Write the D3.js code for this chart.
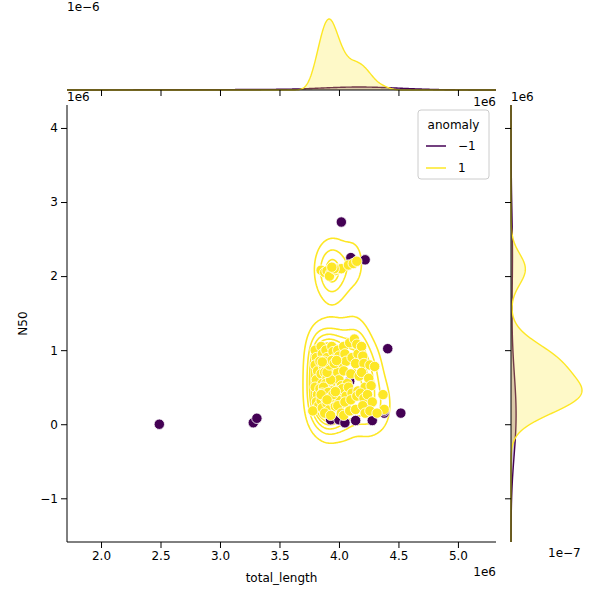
<!DOCTYPE html>
<html><head><meta charset="utf-8">
<script src="https://cdn.jsdelivr.net/npm/d3@7"></script>
<style>body{margin:0;background:#fff}text{font-family:"DejaVu Sans",sans-serif}</style>
</head><body><svg id="c" width="600" height="600"></svg>
<script>
// values in units of 1e6
const normalPts = [[3.80,1.0],[3.81,0.9],[3.80,0.8],[3.82,0.72],[3.81,0.6],[3.80,0.5],[3.82,0.4],[3.81,0.3],[3.83,0.25],[3.78,0.18],
[3.85,1.05],[3.86,0.95],[3.84,0.85],[3.87,0.78],[3.85,0.68],[3.86,0.55],[3.84,0.48],[3.87,0.38],[3.85,0.32],[3.86,0.22],
[3.89,1.0],[3.90,0.9],[3.91,0.82],[3.88,0.7],[3.9,0.62],[3.92,0.5],[3.89,0.45],[3.91,0.35],[3.9,0.28],[3.92,0.2],[3.88,0.15],
[3.94,1.05],[3.95,0.98],[3.96,0.88],[3.94,0.75],[3.95,0.65],[3.97,0.58],[3.93,0.52],[3.96,0.42],[3.94,0.38],[3.95,0.3],[3.97,0.24],[3.93,0.12],
[3.99,1.0],[4.0,0.92],[4.01,0.8],[3.99,0.7],[4.0,0.6],[4.02,0.52],[3.98,0.45],[4.01,0.4],[4.0,0.32],[3.99,0.25],[4.02,0.15],
[4.04,1.05],[4.05,0.95],[4.06,0.85],[4.04,0.72],[4.07,0.55],[4.03,0.48],[4.06,0.38],[4.05,0.3],[4.04,0.12],
[4.09,1.1],[4.11,0.9],[4.1,0.68],[4.08,0.5],[4.11,0.42],[4.1,0.33],[4.09,0.18],
[4.13,1.15],[4.15,1.08],[4.16,0.95],[4.14,0.82],[4.17,0.65],[4.16,0.45],[4.15,0.38],[4.14,0.2],
[4.19,1.05],[4.2,0.92],[4.21,0.82],[4.19,0.7],[4.22,0.5],[4.18,0.42],[4.21,0.35],[4.2,0.25],[4.22,0.15],
[4.26,0.8],[4.25,0.62],[4.27,0.52],[4.24,0.4],[4.28,0.3],[4.26,0.18],[4.3,0.78],[4.37,0.4],[4.38,0.2],[4.32,0.15],
[3.9,0.4],[3.92,0.42],[3.88,0.36],[3.91,0.48],[3.89,0.55],[3.93,0.6],[3.87,0.5],[3.9,0.7],[3.92,0.8],[3.88,0.85],[3.86,0.42],[3.94,0.45],
[3.89,0.38],[3.91,0.43],[3.93,0.36],[3.95,0.4],[3.85,0.4],[3.97,0.44],[3.9,0.33],[3.94,0.86],[3.96,0.82],[3.86,0.84],[3.98,0.86],
[3.85,2.08],[3.88,2.05],[3.9,2.07],[3.93,2.04],[3.95,2.06],[3.92,2.0],[3.98,2.08],[4.0,2.1],[4.02,2.1],[4.08,2.15],[4.12,2.17],[4.15,2.2],[3.96,2.1],[3.94,2.12]];
const anomalyPts = [[2.49,0.0],[3.28,0.02],[3.31,0.08],[4.02,2.73],[4.1,2.25],[4.22,2.22],[4.41,1.02],[4.09,0.58],[3.93,0.06],[4.0,0.06],
[4.05,0.02],[4.14,0.05],[4.28,0.05],[4.38,0.15],[4.38,0.18],[4.52,0.15],[4.25,0.2],[3.97,2.09]];
const hueLabels = ["-1","1"];
const hueColors = ["#440154","#fde725"];
const xTicks = [2.0,2.5,3.0,3.5,4.0,4.5,5.0];
const yTicks = [-1,0,1,2,3,4];

const svg = d3.select("#c");
const M = {l:67,r:496,t:105,b:542};
const x = d3.scaleLinear().domain([1.714,5.32]).range([M.l,M.r]);
const y = d3.scaleLinear().domain([-1.59,4.31]).range([M.b,M.t]);

function kde1(vals,grid,w){const n=vals.length,sd=d3.deviation(vals),h=sd*Math.pow(n,-1/5);
 return grid.map(g=>[g,w*d3.sum(vals,v=>Math.exp(-0.5*((g-v)/h)**2))/(n*h*Math.sqrt(2*Math.PI))]);}
const N = normalPts.length+anomalyPts.length;

(function(){
 const pts=normalPts,n=pts.length;
 const xs=pts.map(p=>p[0]),ys=pts.map(p=>p[1]);
 const mx=d3.mean(xs),my=d3.mean(ys);
 let sxx=0,syy=0,sxy=0;pts.forEach(p=>{sxx+=(p[0]-mx)**2;syy+=(p[1]-my)**2;sxy+=(p[0]-mx)*(p[1]-my);});
 const f=Math.pow(n,-1/6)**2;sxx=sxx/(n-1)*f;syy=syy/(n-1)*f;sxy=sxy/(n-1)*f;
 const det=sxx*syy-sxy*sxy,ia=syy/det,ib=-sxy/det,ic=sxx/det;
 const W=200,H=200,x0=3.4,x1=4.8,y0=-0.8,y1=3.2;
 const vals=new Float64Array(W*H);
 for(let j=0;j<H;j++)for(let i=0;i<W;i++){const gx=x0+(x1-x0)*i/(W-1),gy=y1-(y1-y0)*j/(H-1);let s=0;
  for(const p of pts){const dx=gx-p[0],dy=gy-p[1];s+=Math.exp(-0.5*(ia*dx*dx+2*ib*dx*dy+ic*dy*dy));}vals[j*W+i]=s;}
 const sorted=Array.from(vals).sort((a,b)=>a-b),tot=d3.sum(sorted);
 const props=d3.range(9).map(k=>0.05+k*(0.95/9));
 const th=[];let cum=0,k=0;
 for(const v of sorted){cum+=v;while(k<props.length&&cum/tot>=props[k]){th.push(v);k++;}}
 const cs=d3.contours().size([W,H]).thresholds(th)(vals);
 const gx=d3.scaleLinear().domain([0,W-1]).range([x(x0),x(x1)]);
 const gy=d3.scaleLinear().domain([0,H-1]).range([y(y1),y(y0)]);
 const tr=d3.geoTransform({point:function(a,b){this.stream.point(gx(a-0.5),gy(b-0.5));}});
 svg.append("g").selectAll("path").data(cs).join("path").attr("d",d3.geoPath(tr))
  .attr("fill","none").attr("stroke",hueColors[1]).attr("stroke-width",1.6);
})();

const all=[...anomalyPts.map(p=>[...p,0]),...normalPts.map(p=>[...p,1])];
svg.append("g").selectAll("circle").data(all).join("circle")
 .attr("cx",d=>x(d[0])).attr("cy",d=>y(d[1])).attr("r",5.2)
 .attr("fill",d=>hueColors[d[2]]).attr("stroke","#fff").attr("stroke-width",0.8);

const gxA=svg.append("g").attr("transform",`translate(0,${M.b})`).call(d3.axisBottom(x).tickValues(xTicks).tickFormat(d3.format(".1f")).tickSizeOuter(0));
gxA.select(".domain").attr("d",`M${M.l},0H${M.r}`);
const gyA=svg.append("g").attr("transform",`translate(${M.l},0)`).call(d3.axisLeft(y).tickValues(yTicks).tickFormat(d=>d<0?"\u2212"+(-d):d).tickSizeOuter(0));
gyA.select(".domain").attr("d",`M0,${M.t}V${M.b}`);
svg.selectAll(".tick text").attr("font-size",12).attr("fill","#000");
svg.append("text").attr("x",(M.l+M.r)/2).attr("y",582).attr("text-anchor","middle").attr("font-size",12).text("total_length");
svg.append("text").attr("transform",`translate(27,${(M.t+M.b)/2}) rotate(-90)`).attr("text-anchor","middle").attr("font-size",12).text("N50");
const off=(t,xx,yy,a)=>svg.append("text").attr("x",xx).attr("y",yy).attr("font-size",12).attr("text-anchor",a||"start").text(t);
off("1e6",67,101);off("1e6",496,576,"end");off("1e6",496,106,"end");off("1e6",511,101);off("1e\u22126",67,11);off("1e\u22127",548,557);

const T={t:0,b:90};
const xg=d3.range(1.714,5.32,0.005);
const topK=[0,1].map(h=>kde1((h?normalPts:anomalyPts).map(p=>p[0]),xg,(h?normalPts:anomalyPts).length/N));
const tmax=d3.max(topK[1],d=>d[1]);
const ty=d3.scaleLinear().domain([0,tmax*90/71]).range([T.b,T.t]);
[0,1].forEach(h=>{
 svg.append("path").datum(topK[h]).attr("d",d3.area().x(d=>x(d[0])).y0(T.b).y1(d=>ty(d[1]))).attr("fill",hueColors[h]).attr("fill-opacity",0.25);
 svg.append("path").datum(topK[h]).attr("d",d3.line().x(d=>x(d[0])).y(d=>ty(d[1]))).attr("fill","none").attr("stroke",hueColors[h]).attr("stroke-width",1.4);
});
const gt=svg.append("g").attr("transform",`translate(0,${T.b})`).call(d3.axisBottom(x).tickValues(xTicks).tickFormat("").tickSizeOuter(0));
gt.select(".domain").attr("d",`M${M.l},0H${M.r}`);

const R={l:511,r:600};
const yg=d3.range(-1.59,4.31,0.005);
const rtK=[0,1].map(h=>kde1((h?normalPts:anomalyPts).map(p=>p[1]),yg,(h?normalPts:anomalyPts).length/N));
const rmax=d3.max(rtK[1],d=>d[1]);
const rx=d3.scaleLinear().domain([0,rmax*89/71]).range([R.l,R.r]);
[0,1].forEach(h=>{
 svg.append("path").datum(rtK[h]).attr("d",d3.area().y(d=>y(d[0])).x0(R.l).x1(d=>rx(d[1]))).attr("fill",hueColors[h]).attr("fill-opacity",0.25);
 svg.append("path").datum(rtK[h]).attr("d",d3.line().y(d=>y(d[0])).x(d=>rx(d[1]))).attr("fill","none").attr("stroke",hueColors[h]).attr("stroke-width",1.4);
});
const gr=svg.append("g").attr("transform",`translate(${R.l},0)`).call(d3.axisLeft(y).tickValues(yTicks).tickFormat("").tickSizeOuter(0));
gr.select(".domain").attr("d",`M0,${M.t}V${M.b}`);
svg.selectAll(".domain").attr("stroke","#000");
svg.selectAll(".tick line").attr("stroke","#000");

const L=svg.append("g").attr("transform","translate(418,110)");
L.append("rect").attr("width",71).attr("height",69).attr("rx",3).attr("fill","#fff").attr("fill-opacity",0.8).attr("stroke","#ccc");
L.append("text").attr("x",35.5).attr("y",19).attr("text-anchor","middle").attr("font-size",12).text("anomaly");
hueLabels.forEach((t,i)=>{const yy=36+i*22;
 L.append("line").attr("x1",8).attr("x2",28).attr("y1",yy).attr("y2",yy).attr("stroke",hueColors[i]).attr("stroke-width",1.5);
 L.append("text").attr("x",40).attr("y",yy+4).attr("font-size",12).text(t==="-1"?"\u22121":t);});
</script></body></html>
